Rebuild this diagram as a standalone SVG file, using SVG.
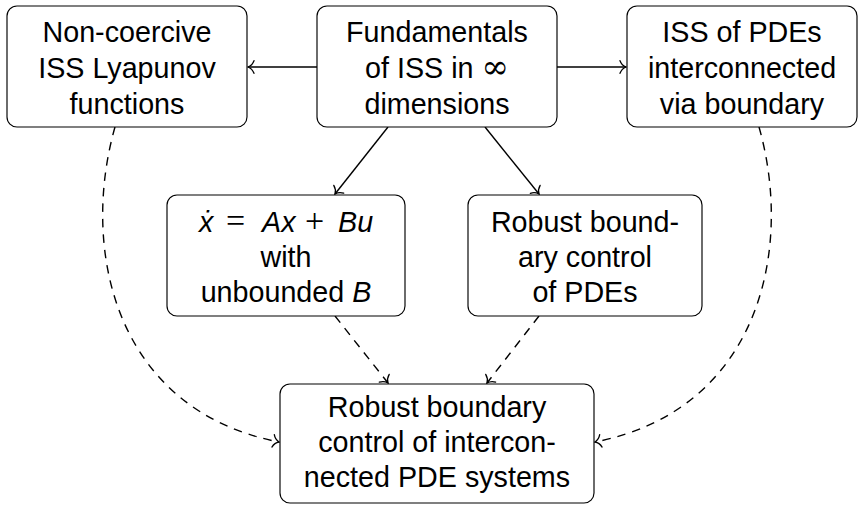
<svg xmlns="http://www.w3.org/2000/svg" width="864" height="505" viewBox="0 0 864 505">
<style>
.box{fill:#fff;stroke:#000;stroke-width:1.15}
.t{font-family:"Liberation Sans","DejaVu Sans",sans-serif;font-size:28.7px;fill:#000;text-anchor:middle}
.it{font-style:italic}
.m{font-family:"Liberation Serif","DejaVu Serif",serif;font-style:normal;font-size:34px}
.c{fill:none;stroke:#000;stroke-width:1.4}
.d{stroke-dasharray:8.5 7}
</style>
<defs>
<marker id="ah" markerUnits="userSpaceOnUse" viewBox="-9 -8 11 16" refX="0" refY="0" markerWidth="11" markerHeight="16" orient="auto" overflow="visible">
<path d="M-6,-6.3 C-4.6,-2.6 -1.8,-0.7 0,0 C-1.8,0.7 -4.6,2.6 -6,6.3" fill="none" stroke="#000" stroke-width="1.3" stroke-dasharray="none" stroke-linecap="round"/>
</marker>
</defs>
<g id="connectors">
<line class="c" x1="317" y1="67" x2="248" y2="67" marker-end="url(#ah)"/>
<line class="c" x1="557" y1="67" x2="626" y2="67" marker-end="url(#ah)"/>
<line class="c" x1="388" y1="127" x2="335" y2="194" marker-end="url(#ah)"/>
<line class="c" x1="485" y1="127" x2="539" y2="194" marker-end="url(#ah)"/>
<line class="c d" x1="335" y1="316" x2="388" y2="383" marker-end="url(#ah)"/>
<line class="c d" x1="539" y1="316" x2="487" y2="383" marker-end="url(#ah)"/>
<path class="c d" d="M115,127 C80,250 115,410 279,442" marker-end="url(#ah)"/>
<path class="c d" d="M759,127 C794,250 759,410 595,442" marker-end="url(#ah)"/>
</g>
<g id="n1">
<rect class="box" x="7" y="6" width="240" height="121" rx="10"/>
<text class="t" x="127" y="41.5">Non-coercive</text>
<text class="t" x="127" y="77.5">ISS Lyapunov</text>
<text class="t" x="127" y="113.5">functions</text>
</g>
<g id="n2">
<rect class="box" x="317" y="6" width="240" height="121" rx="10"/>
<text class="t" x="437" y="41.5">Fundamentals</text>
<text class="t" x="437" y="77.5">of ISS in <tspan style="font-family:'DejaVu Serif',serif;font-size:33px">∞</tspan></text>
<text class="t" x="437" y="113.5">dimensions</text>
</g>
<g id="n3">
<rect class="box" x="627" y="6" width="230" height="121" rx="10"/>
<text class="t" x="742" y="41.5">ISS of PDEs</text>
<text class="t" x="742" y="77.5">interconnected</text>
<text class="t" x="742" y="113.5">via boundary</text>
</g>
<g id="n4">
<rect class="box" x="167" y="195" width="238" height="121" rx="10"/>
<text class="t" y="231.5" style="text-anchor:start"><tspan class="it" x="199">ẋ</tspan><tspan class="m" x="226">=</tspan><tspan class="it" x="262">Ax</tspan><tspan class="m" x="305">+</tspan><tspan class="it" x="338">Bu</tspan></text>
<text class="t" x="286" y="266.5">with</text>
<text class="t" x="286" y="301.5">unbounded <tspan class="it">B</tspan></text>
</g>
<g id="n5">
<rect class="box" x="468" y="195" width="234" height="121" rx="10"/>
<text class="t" x="585" y="231.5">Robust bound-</text>
<text class="t" x="585" y="266.5">ary control</text>
<text class="t" x="585" y="301.5">of PDEs</text>
</g>
<g id="n6">
<rect class="box" x="280" y="384" width="314" height="119" rx="10"/>
<text class="t" x="437" y="416.5">Robust boundary</text>
<text class="t" x="437" y="451.5">control of intercon-</text>
<text class="t" x="437" y="486.5">nected PDE systems</text>
</g>
</svg>
